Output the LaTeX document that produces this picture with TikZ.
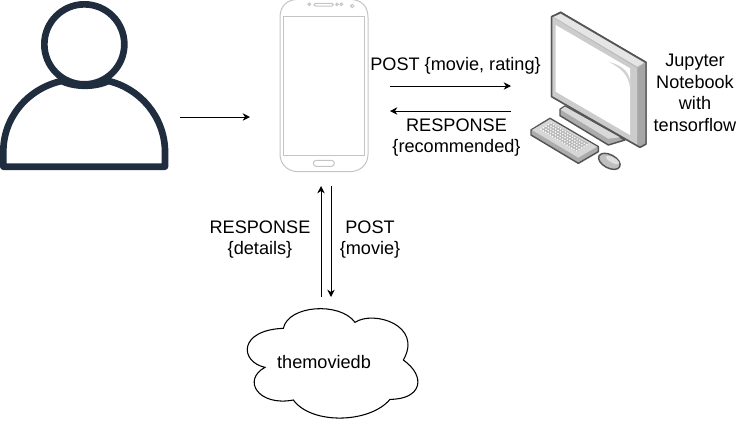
\documentclass[tikz,border=0pt]{standalone}
\usepackage{fontspec}
\setmainfont{Liberation Sans}
\usetikzlibrary{arrows.meta}
\definecolor{personc}{HTML}{1F2D3F}
\definecolor{phonec}{HTML}{C4C4C4}
\definecolor{edgec}{HTML}{555555}
\tikzset{
  arrowline/.style={draw=black,line width=0.75pt,-{Stealth[length=5.5pt,width=5.5pt]}},
  lbl/.style={font=\fontsize{13.6}{16.2}\selectfont,align=center,inner sep=0pt},
  zoomed/.style={x=0.25pt,y=-0.25pt},
  phoneline/.style={draw=phonec,line width=0.75pt},
  pcshape/.style={draw=edgec,line width=1.1pt,line join=round}
}
\begin{document}
\begin{tikzpicture}[x=0.75pt,y=-0.75pt]
\useasboundingbox (0,0) rectangle (737,426);
% person
\begin{scope}[shift={(0,0)},zoomed]
\draw[personc,line width=5pt,line join=round,fill=white]
  (10,500) -- (10,450) .. controls (12,350) and (85,265) .. (185,243)
  .. controls (225,262) and (285,262) .. (325,243)
  .. controls (420,265) and (492,350) .. (495,450) -- (495,500) -- cycle;
\draw[personc,line width=5pt,fill=white] (253,133) circle [radius=120];
\end{scope}
% phone
\begin{scope}[shift={(270,0)},zoomed]
\draw[phoneline] (30,52) .. controls (30,15) and (55,-2) .. (85,-2) -- (238,-2)
  .. controls (270,-2) and (294,15) .. (294,52) -- (294,462)
  .. controls (294,495) and (270,515) .. (238,515) -- (85,515)
  .. controls (55,515) and (30,495) .. (30,462) -- cycle;
\draw[phoneline] (41,48) rectangle (283,465);
\draw[phoneline,rounded corners=2.2pt] (130,481) rectangle (193,499);
\draw[phoneline,rounded corners=1pt] (132,10) rectangle (190,18);
\draw[phoneline] (118,13) circle [radius=4];
\draw[phoneline] (201,13) circle [radius=4];
\draw[phoneline] (214,13) circle [radius=4];
\draw[phoneline] (247,18) circle [radius=5];
\end{scope}
% computer
\begin{scope}[shift={(520,0)},zoomed]
% stand
\draw[pcshape,fill=gray!65] (120,328) -- (135,318) -- (315,420) -- (265,435) -- (120,347) -- cycle;
\fill[gray!30] (122,329) -- (135,320) -- (300,412) -- (265,416) -- cycle;
% monitor
\draw[pcshape,fill=gray!55] (95,50) -- (122,37) -- (378,187) -- (378,432) -- (360,442) -- (95,290) -- cycle;
\fill[gray!40] (95,50) -- (352,205) -- (352,438) -- (95,290) -- cycle;
\fill[gray!70] (352,205) -- (378,187) -- (378,432) -- (360,442) -- (352,438) -- cycle;
\fill[gray!20] (100,50) -- (122,42) -- (372,188) -- (352,200) -- cycle;
\draw[pcshape] (95,50) -- (122,37) -- (378,187) -- (378,432) -- (360,442) -- (95,290) -- cycle;
\fill[white] (107,75) -- (330,205) -- (330,405) -- (107,275) -- cycle;
\fill[gray!35] (330,262) .. controls (325,225) and (305,205) .. (265,185) .. controls (300,195) and (325,210) .. (330,240) -- cycle;
% keyboard
\draw[pcshape,fill=gray!65] (33,390) -- (90,355) -- (235,440) -- (235,455) -- (175,490) -- (33,405) -- cycle;
\fill[gray!32] (36,390) -- (90,358) -- (231,440) -- (175,473) -- cycle;
\fill[gray!55] (63,388) -- (95,368) -- (205,430) -- (170,455) -- cycle;
\foreach \r in {0,...,4}{
  \foreach \c in {0,...,15}{
    \fill[white] ({63+\r*7.6+\c*7.1},{388-\r*4.6+\c*4.3}) circle [radius=2.6];
  }
}
% mouse
\draw[pcshape,fill=gray!50,rotate around={-28:(268,484)}] (268,484) ellipse [x radius=35,y radius=20];
\fill[gray!25,rotate around={-28:(268,484)}] (275,476) ellipse [x radius=22,y radius=8];
\end{scope}
% cloud
\begin{scope}[shift={(230,290)},zoomed]
\draw[black,line width=0.8pt,fill=white] (105,232)
  .. controls (28,215) and (25,120) .. (160,115)
  .. controls (175,45) and (330,35) .. (375,97)
  .. controls (430,60) and (580,105) .. (520,210)
  .. controls (590,260) and (575,328) .. (480,328)
  .. controls (420,400) and (245,405) .. (190,330)
  .. controls (85,350) and (35,270) .. (105,232) -- cycle;
\end{scope}
\node[lbl] (cloudtext) at (324,362) {themoviedb};
% connector ends
\coordinate (personout) at (180,117);
\coordinate (phonein) at (250,117);
\coordinate (postA) at (390,86);
\coordinate (postB) at (511,86);
\coordinate (respA) at (511,111);
\coordinate (respB) at (390,111);
\coordinate (upA) at (321,297);
\coordinate (upB) at (321,186);
\coordinate (downA) at (331,186);
\coordinate (downB) at (331,297);
\draw[arrowline] (personout) -- (phonein);
\draw[arrowline] (postA) -- (postB);
\draw[arrowline] (respA) -- (respB);
\draw[arrowline] (upA) -- (upB);
\draw[arrowline] (downA) -- (downB);
% labels
\node[lbl] (postlbl) at (455.5,66) {POST \{movie, rating\}};
\node[lbl] (resplbl) at (456.5,137.5) {RESPONSE\\\{recommended\}};
\node[lbl] (detlbl) at (260,239.5) {RESPONSE\\\{details\}};
\node[lbl] (movlbl) at (370,239.5) {POST\\\{movie\}};
\node[lbl] (juplbl) at (695,93) {Jupyter\\Notebook\\with\\tensorflow};
\end{tikzpicture}
\end{document}
